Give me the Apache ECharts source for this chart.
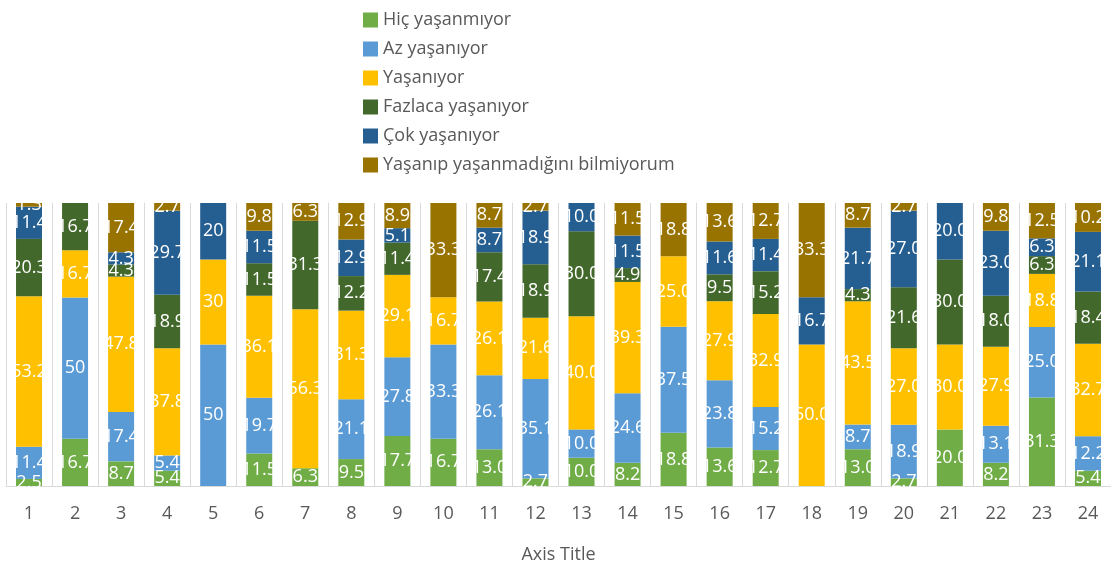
<!DOCTYPE html>
<html>
<head>
<meta charset="utf-8">
<script src="https://cdn.jsdelivr.net/npm/echarts@6/dist/echarts.min.js"></script>
<style>html,body{margin:0;padding:0;background:#fff}#c{width:1111px;height:572px}</style>
</head>
<body>
<div id="c"></div>
<script>
const categories = ['1','2','3','4','5','6','7','8','9','10','11','12','13','14','15','16','17','18','19','20','21','22','23','24'];
const seriesNames = ['Hiç yaşanmıyor','Az yaşanıyor','Yaşanıyor','Fazlaca yaşanıyor','Çok yaşanıyor','Yaşanıp yaşanmadığını bilmiyorum'];
const hic      = [2.5,16.7,8.7,5.4,0,11.5,6.3,9.5,17.7,16.7,13.0,2.7,10.0,8.2,18.8,13.6,12.7,0,13.0,2.7,20.0,8.2,31.3,5.4];
const az       = [11.4,50,17.4,5.4,50,19.7,0,21.1,27.8,33.3,26.1,35.1,10.0,24.6,37.5,23.8,15.2,0,8.7,18.9,0,13.1,25.0,12.2];
const yas      = [53.2,16.7,47.8,37.8,30,36.1,56.3,31.3,29.1,16.7,26.1,21.6,40.0,39.3,25.0,27.9,32.9,50.0,43.5,27.0,30.0,27.9,18.8,32.7];
const fazlaca  = [20.3,16.7,4.3,18.9,0,11.5,31.3,12.2,11.4,0,17.4,18.9,30.0,4.9,0,9.5,15.2,0,4.3,21.6,30.0,18.0,6.3,18.4];
const cok      = [11.4,0,4.3,29.7,20,11.5,0,12.9,5.1,0,8.7,18.9,10.0,11.5,0,11.6,11.4,16.7,21.7,27.0,20.0,23.0,6.3,21.1];
const bilmiyor = [1.3,0,17.4,2.7,0,9.8,6.3,12.9,8.9,33.3,8.7,2.7,0,11.5,18.8,13.6,12.7,33.3,8.7,2.7,0,9.8,12.5,10.2];
const integerLabelCats = ['2','5'];
const colors = ['#70AD47','#5B9BD5','#FFC000','#43682B','#255E91','#997300'];

const all = [hic, az, yas, fazlaca, cok, bilmiyor];
const totals = categories.map((c, i) => all.reduce((s, a) => s + a[i], 0));

const series = all.map((arr, k) => ({
  name: seriesNames[k],
  type: 'bar',
  stack: 'total',
  barWidth: 26,
  itemStyle: { color: colors[k] },
  data: arr.map((v, i) => ({ value: v / totals[i] * 100, raw: v })),
  label: {
    show: true,
    position: 'inside',
    color: '#fff',
    fontSize: 18,
    fontFamily: 'Open Sans',
    formatter: p => {
      const v = p.data.raw;
      if (!v) return '';
      return integerLabelCats.includes(p.name) && Number.isInteger(v) ? String(v) : v.toFixed(1);
    }
  }
}));

const chart = echarts.init(document.getElementById('c'));
chart.setOption({
  animation: false,
  backgroundColor: '#fff',
  textStyle: { fontFamily: 'Open Sans' },
  legend: {
    orient: 'vertical',
    left: 358,
    top: 6,
    itemWidth: 15,
    itemHeight: 15,
    itemGap: 11,
    icon: 'rect',
    textStyle: { color: '#595959', fontSize: 18, fontFamily: 'Open Sans', lineHeight: 18 },
    data: seriesNames
  },
  grid: { left: 6, right: -5, top: 203, bottom: 86 },
  xAxis: {
    type: 'category',
    data: categories,
    axisLine: { lineStyle: { color: '#D9D9D9' } },
    axisTick: { show: false },
    splitLine: { show: true, lineStyle: { color: '#D9D9D9' } },
    axisLabel: { color: '#595959', fontSize: 18, margin: 19, fontFamily: 'Open Sans' },
    name: 'Axis Title',
    nameLocation: 'middle',
    nameGap: 60,
    nameTextStyle: { color: '#595959', fontSize: 18, fontFamily: 'Open Sans' }
  },
  yAxis: { type: 'value', min: 0, max: 100, show: false, splitLine: { show: false } },
  series
});
</script>
</body>
</html>
